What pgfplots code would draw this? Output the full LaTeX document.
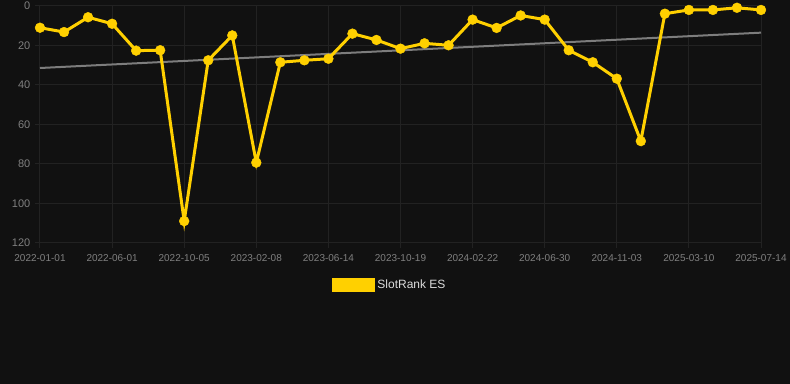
\documentclass[border=0pt]{standalone}
\usepackage{fontspec}
\setmainfont{Liberation Sans}
\usepackage{pgfplots}
\pgfplotsset{compat=1.18}
\definecolor{bg}{RGB}{17,17,17}
\definecolor{gridc}{RGB}{34,34,34}
\definecolor{tickc}{RGB}{128,128,128}
\definecolor{ylw}{RGB}{255,208,0}
\definecolor{trend}{RGB}{125,125,125}
\definecolor{legtext}{RGB}{220,220,220}
\begin{document}
\begin{tikzpicture}
\fill[bg] (0,0) rectangle (592.5pt,288pt);
\path[use as bounding box] (0,0) rectangle (592.5pt,288pt);
\begin{axis}[
  at={(30pt,105.75pt)}, anchor=south west,
  scale only axis, width=540.75pt, height=177.75pt,
  xmin=0, xmax=30, ymin=0, ymax=120, y dir=reverse,
  xtick={0,3,...,30},
  xticklabels={2022-01-01,2022-06-01,2022-10-05,2023-02-08,2023-06-14,2023-10-19,2024-02-22,2024-06-30,2024-11-03,2025-03-10,2025-07-14},
  ytick={0,20,...,120},
  grid=major,
  grid style={gridc, line width=0.75pt},
  axis line style={draw=none},
  tick style={gridc, line width=0.75pt},
  tick pos=left,
  tick align=outside,
  major tick length=3.75pt,
  /pgf/number format/assume math mode=true,
  xticklabel style={font=\fontsize{7.5pt}{9pt}\selectfont, text=tickc, yshift=-1pt},
  yticklabel style={font=\fontsize{8.25pt}{10pt}\selectfont, text=tickc},
  clip=false,
  legend style={at={(0.4854,-0.177)}, anchor=center, draw=none, fill=none,
    text=legtext, font=\fontsize{9pt}{11pt}\selectfont},
]
\addplot[trend, line width=1.5pt, forget plot] coordinates {(0,31.4) (30,13.5)};
\addplot[ylw, line width=2.25pt, mark=*, mark size=3.7pt,
  mark options={solid, fill=ylw, draw=ylw, line width=0.3pt},
  legend image code/.code={\fill[ylw] (0pt,-4.125pt) rectangle (30pt,4.125pt);}]
coordinates {
(0,11.0) (1,13.2) (2,5.7) (3,9.0) (4,22.6) (5,22.4) (6,108.9) (7,27.5) (8,14.9) (9,79.3)
(10,28.5) (11,27.5) (12,26.7) (13,14.0) (14,17.2) (15,21.6) (16,18.9) (17,19.9) (18,6.9) (19,11.1)
(20,4.8) (21,6.9) (22,22.4) (23,28.5) (24,36.8) (25,68.4) (26,3.9) (27,2.0) (28,2.0) (29,0.9) (30,2.0)
};
\addlegendentry{SlotRank ES}
\end{axis}
\end{tikzpicture}
\end{document}
